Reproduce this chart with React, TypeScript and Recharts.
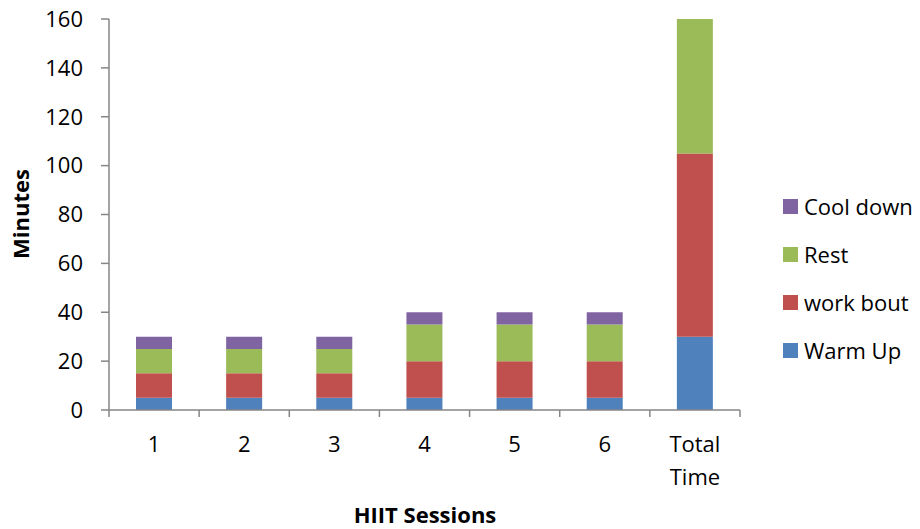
import { Bar, BarChart, XAxis, YAxis } from 'recharts';

const sessions = ['1', '2', '3', '4', '5', '6', 'Total Time'];
const warmUp = [5, 5, 5, 5, 5, 5, 30];
const workBout = [10, 10, 10, 15, 15, 15, 75];
const rest = [10, 10, 10, 15, 15, 15, 75];
const coolDown = [5, 5, 5, 5, 5, 5, 30];
const yTicks = [0, 20, 40, 60, 80, 100, 120, 140, 160];

const series = [
  { key: 'warmUp', name: 'Warm Up', color: '#4F81BD' },
  { key: 'workBout', name: 'work bout', color: '#C0504D' },
  { key: 'rest', name: 'Rest', color: '#9BBB59' },
  { key: 'coolDown', name: 'Cool down', color: '#8064A2' },
];

const data = sessions.map((name, i) => ({
  name,
  warmUp: warmUp[i],
  workBout: workBout[i],
  rest: rest[i],
  coolDown: coolDown[i],
}));

const FONT = '"Open Sans", "DejaVu Sans", sans-serif';
const AXIS = '#868686';

function SessionTick(props: any) {
  const { x, y, payload, index, width } = props;
  const band = width / sessions.length;
  const lines = String(payload.value).split(' ');
  const isLast = index === sessions.length - 1;
  return (
    <g>
      <line x1={x - band / 2} x2={x - band / 2} y1={y} y2={y + 7} stroke={AXIS} strokeWidth={1.5} />
      {isLast && (
        <line x1={x + band / 2} x2={x + band / 2} y1={y} y2={y + 7} stroke={AXIS} strokeWidth={1.5} />
      )}
      {lines.map((l, i) => (
        <text
          key={i}
          x={x}
          y={y + 42 + i * 33}
          textAnchor="middle"
          fontFamily={FONT}
          fontSize={22}
          fill="#000"
        >
          {l}
        </text>
      ))}
    </g>
  );
}

export default function App() {
  return (
    <div style={{ position: 'absolute', left: 0, top: 0, width: 920, height: 529, background: '#fff', overflow: 'hidden' }}>
      <BarChart
        width={920}
        height={529}
        data={data}
        margin={{ top: 19, right: 180, bottom: 39, left: 0 }}
        barSize={36}
      >
        <XAxis
          dataKey="name"
          height={80}
          tickLine={false}
          tickSize={0}
          tickMargin={0}
          axisLine={{ stroke: AXIS, strokeWidth: 1.5 }}
          tick={<SessionTick />}
          interval={0}
        />
        <YAxis
          width={109}
          domain={[0, 160]}
          ticks={yTicks}
          interval={0}
          allowDataOverflow
          tickSize={8}
          tickMargin={18}
          axisLine={{ stroke: AXIS, strokeWidth: 1.5 }}
          tickLine={{ stroke: AXIS, strokeWidth: 1.5 }}
          tick={{ fontFamily: FONT, fontSize: 22, fill: '#000' }}
        />
        {series.map((s) => (
          <Bar
            key={s.key}
            dataKey={s.key}
            name={s.name}
            stackId="a"
            fill={s.color}
            isAnimationActive={false}
          />
        ))}
      </BarChart>
      <div
        style={{
          position: 'absolute',
          left: 783,
          top: 182,
          fontFamily: FONT,
          fontSize: 22,
          color: '#000',
        }}
      >
        {[...series].reverse().map((s) => (
          <div key={s.key} style={{ display: 'flex', alignItems: 'center', height: 48 }}>
            <span
              style={{ width: 15, height: 15, background: s.color, display: 'inline-block', marginRight: 6 }}
            />
            <span>{s.name}</span>
          </div>
        ))}
      </div>
      <div
        style={{
          position: 'absolute',
          left: 20,
          top: 214,
          transform: 'translate(-50%, -50%) rotate(-90deg)',
          fontFamily: FONT,
          fontWeight: 700,
          fontSize: 22,
          lineHeight: 1,
          whiteSpace: 'nowrap',
        }}
      >
        Minutes
      </div>
      <div
        style={{
          position: 'absolute',
          left: 425,
          top: 503,
          transform: 'translateX(-50%)',
          fontFamily: FONT,
          fontWeight: 700,
          fontSize: 22,
          lineHeight: 1,
          whiteSpace: 'nowrap',
        }}
      >
        HIIT Sessions
      </div>
    </div>
  );
}
